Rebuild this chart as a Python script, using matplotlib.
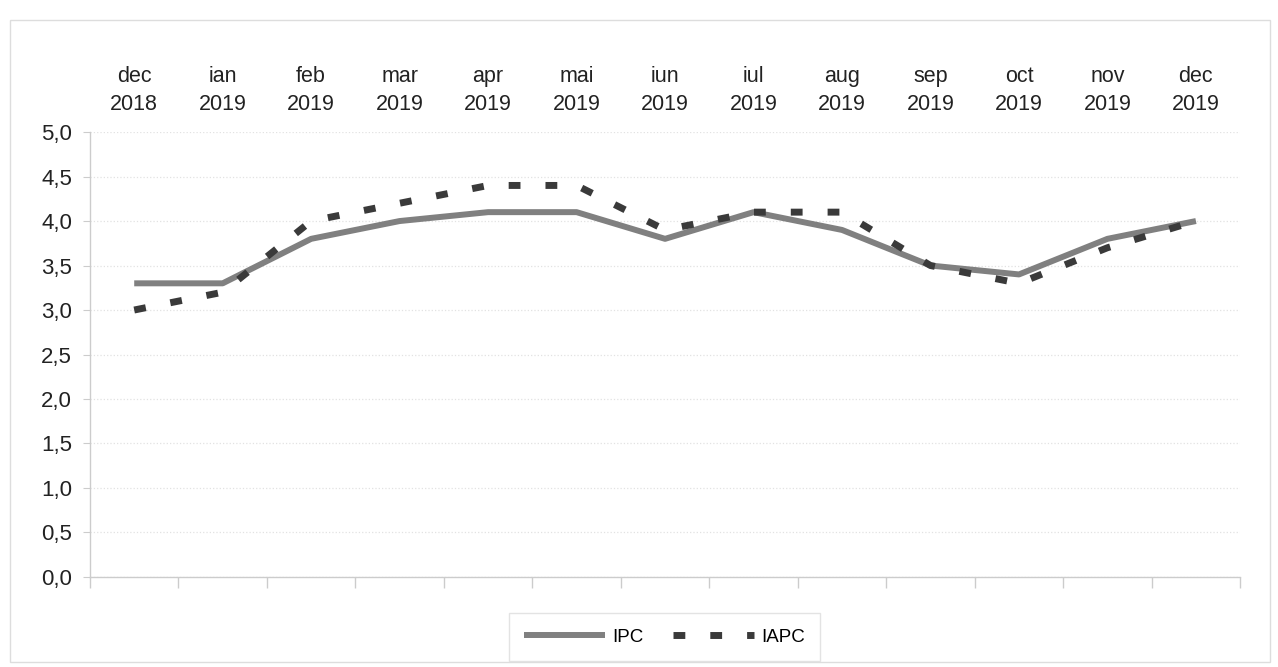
import numpy as np
import matplotlib
matplotlib.use('Agg')
import matplotlib.pyplot as plt
from matplotlib.patches import Rectangle

plt.rcParams['font.family'] = ['Liberation Sans', 'DejaVu Sans']

# data
months = ['dec\n2018', 'ian\n2019', 'feb\n2019', 'mar\n2019', 'apr\n2019', 'mai\n2019',
          'iun\n2019', 'iul\n2019', 'aug\n2019', 'sep\n2019', 'oct\n2019', 'nov\n2019',
          'dec\n2019']
ipc = [3.3, 3.3, 3.8, 4.0, 4.1, 4.1, 3.8, 4.1, 3.9, 3.5, 3.4, 3.8, 4.0]
iapc = [3.0, 3.2, 4.0, 4.2, 4.4, 4.4, 3.9, 4.1, 4.1, 3.5, 3.3, 3.7, 4.0]
yticks = [0.0, 0.5, 1.0, 1.5, 2.0, 2.5, 3.0, 3.5, 4.0, 4.5, 5.0]

fig = plt.figure(figsize=(12.78, 6.67), dpi=100)
ax = fig.add_axes([0.0704, 0.135, 0.90, 0.667])

x = np.arange(len(months))
ax.plot(x, ipc, color='#808080', lw=4.3, solid_capstyle='butt', label='IPC', zorder=3)
ax.plot(x, iapc, color='#3a3a3a', lw=5, linestyle=(0, (1.7, 3.6)),
        dash_capstyle='butt', label='IAPC', zorder=4)

ax.set_xlim(-0.5, len(months) - 0.5)
ax.set_ylim(0, 5)
ax.set_yticks(yticks)
ax.set_yticklabels([f'{v:.1f}'.replace('.', ',') for v in yticks], fontsize=16, color='#222222')

# month labels on top, category boundary ticks at bottom
ax.set_xticks(x)
ax.set_xticklabels(months, fontsize=15.5, color='#222222', linespacing=1.45)
ax.tick_params(axis='x', which='major', bottom=False, top=False,
               labelbottom=False, labeltop=True, pad=9)
ax.set_xticks(np.arange(-0.5, len(months), 1), minor=True)
ax.tick_params(axis='x', which='minor', bottom=True, top=False, length=8,
               color='#cccccc', width=1)
ax.tick_params(axis='y', length=5, color='#cccccc', pad=8)

for s in ['top', 'right']:
    ax.spines[s].set_visible(False)
for s in ['left', 'bottom']:
    ax.spines[s].set_color('#cccccc')
    ax.spines[s].set_linewidth(1)

ax.yaxis.grid(True, color='#e2e2e2', linestyle=':', lw=0.9)
ax.set_axisbelow(True)

leg = fig.legend(loc='center', bbox_to_anchor=(0.52, 0.045), ncol=2, fontsize=13.5,
                 frameon=True, fancybox=False, handlelength=4.3, columnspacing=1.6,
                 handletextpad=0.4, borderpad=0.8)
leg.get_frame().set_edgecolor('#dddddd')
leg.get_frame().set_linewidth(1)

# outer border of the chart area
fig.patches.append(Rectangle((0.008, 0.008), 0.986, 0.962, transform=fig.transFigure,
                             fill=False, edgecolor='#dddddd', lw=1))

fig.savefig('out.png', dpi=100, facecolor='white')
